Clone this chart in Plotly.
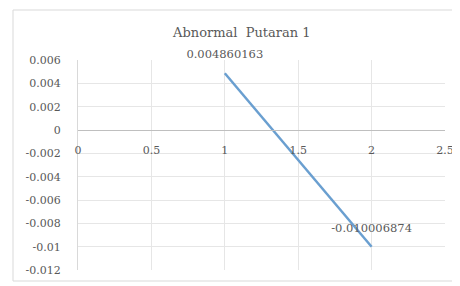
import plotly.graph_objects as go

x_vals = [1, 2]
y_vals = [0.004860163, -0.010006874]
point_labels = ["0.004860163", "-0.010006874"]
title_text = "Abnormal  Putaran 1"
y_tickvals = [0.006, 0.004, 0.002, 0, -0.002, -0.004, -0.006, -0.008, -0.01, -0.012]
y_ticktext = ["0.006", "0.004", "0.002", "0", "-0.002", "-0.004", "-0.006", "-0.008", "-0.01", "-0.012"]
x_tickvals = [0, 0.5, 1, 1.5, 2, 2.5]
x_ticktext = ["0", "0.5", "1", "1.5", "2", "2.5"]

font_fam = "DejaVu Serif"
txt_col = "#595959"
grid_col = "#e6e6e6"

fig = go.Figure()
fig.add_trace(go.Scatter(
    x=x_vals, y=y_vals, mode="lines+markers+text",
    line=dict(color="#6a9fd0", width=2.5),
    marker=dict(size=18, color="rgba(0,0,0,0)"),
    text=point_labels, textposition="top center",
    textfont=dict(family=font_fam, size=11.5, color=txt_col),
    cliponaxis=False, hoverinfo="skip", showlegend=False,
))

fig.update_layout(
    width=448, height=274,
    margin=dict(l=70, r=11, t=52, b=12),
    paper_bgcolor="white", plot_bgcolor="white",
    font=dict(family=font_fam, size=10, color=txt_col),
    title=dict(text=title_text, x=0.522, xanchor="center", y=0.909, yanchor="middle",
               automargin=False,
               font=dict(family=font_fam, size=13, color=txt_col)),
    xaxis=dict(range=[0, 2.5], tickvals=x_tickvals, ticktext=x_ticktext,
               showgrid=True, gridcolor=grid_col, gridwidth=1, automargin=False,
               zeroline=False, showline=True, linecolor="#bfbfbf", linewidth=1,
               anchor="free", position=2/3, ticks="", ticklabelstandoff=10,
               tickfont=dict(family=font_fam, size=11, color=txt_col)),
    yaxis=dict(range=[-0.012, 0.006], tickvals=y_tickvals, ticktext=y_ticktext,
               showgrid=True, gridcolor=grid_col, gridwidth=1, automargin=False,
               zeroline=False, showline=True, linecolor="#d9d9d9", linewidth=1,
               ticks="", ticklabelstandoff=14,
               tickfont=dict(family=font_fam, size=11, color=txt_col)),
)

# outer chart border
fig.add_shape(type="rect", xref="paper", yref="paper",
              x0=(5 - 70) / 367, x1=(470 - 70) / 367,
              y0=(262 - 273) / 210, y1=(262 - 2) / 210,
              line=dict(color="#d9d9d9", width=1), layer="below")

fig.write_html("out.html")
